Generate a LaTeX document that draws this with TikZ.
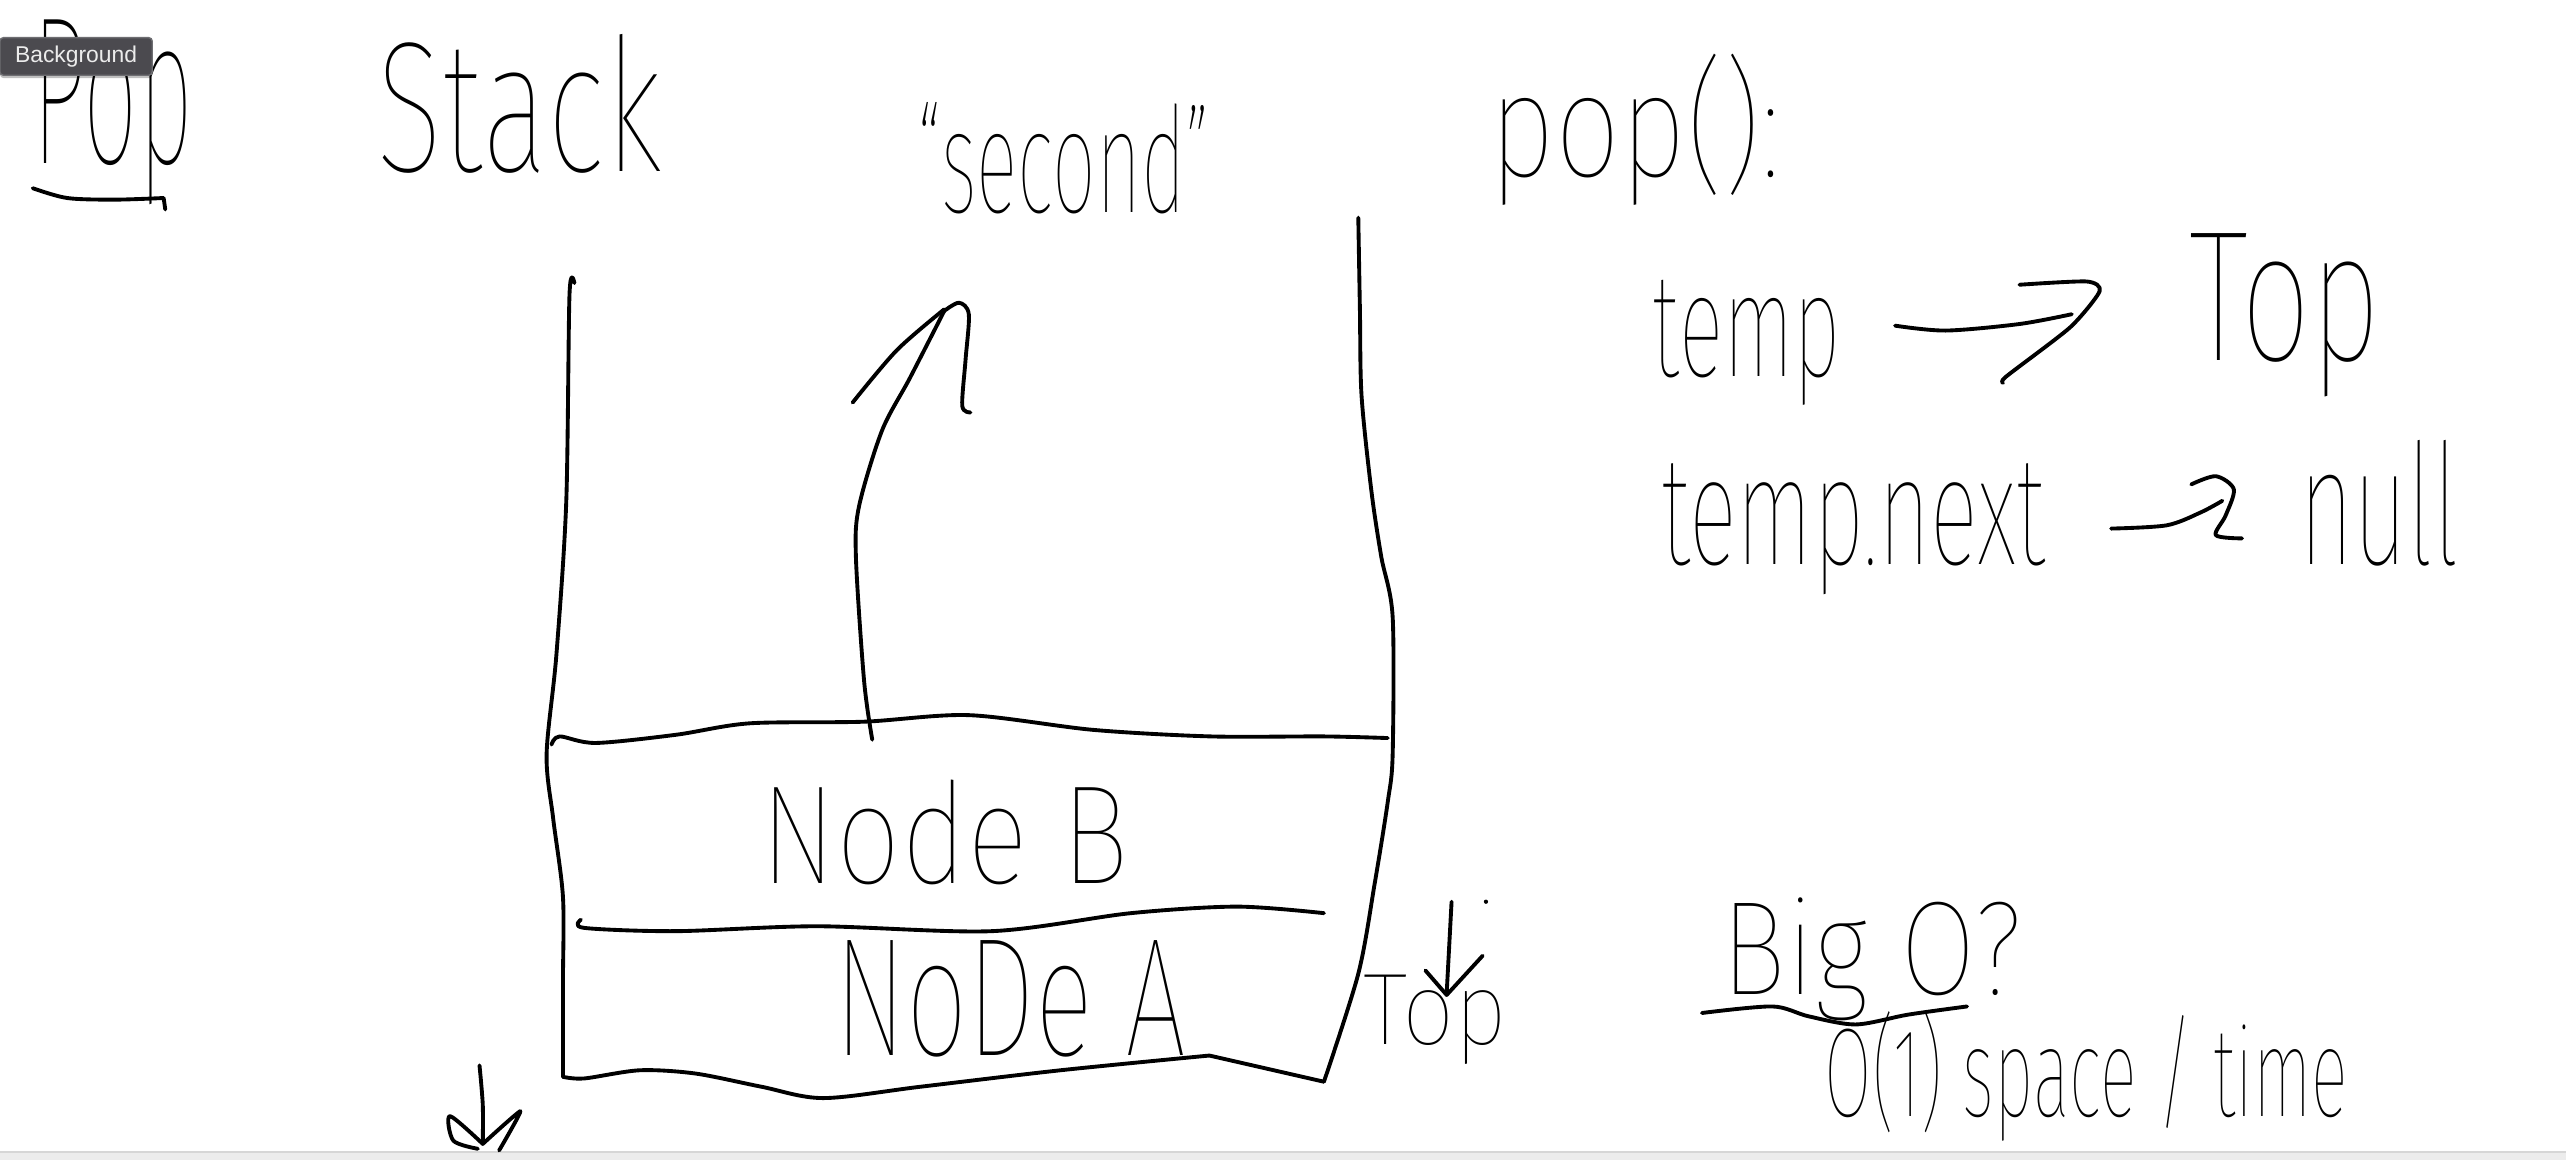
\documentclass[tikz,border=0pt]{standalone}
\usepackage{fontspec}
\usepackage{graphicx}
\usetikzlibrary{shadows}
\IfFontExistsTF{FiraSans-Thin.otf}{\newfontfamily\hand{FiraSans-Thin.otf}}{%
  \IfFontExistsTF{Fira Sans Thin}{\newfontfamily\hand{Fira Sans Thin}}{\newfontfamily\hand{Fira Sans}}}
\newfontfamily\uifont{Liberation Sans}
\newdimen\pvx \pvx=0.016365cm
\newcommand\hw[3]{\fontsize{#1pt}{#1pt}\selectfont\resizebox{#2\pvx}{\height}{#3}}
\definecolor{tipfill}{RGB}{75,74,79}
\definecolor{tipline}{RGB}{110,110,114}
\definecolor{tiptext}{RGB}{236,236,236}
\definecolor{barfill}{RGB}{236,236,236}
\definecolor{barline}{RGB}{214,214,214}
\begin{document}
\begin{tikzpicture}[x=0.016365cm, y=-0.016365cm,
  stroke/.style={line width=1.1pt, line cap=round, line join=round},
  txt/.style={inner sep=0pt, outer sep=0pt, anchor=base west, font=\hand},
  tooltip/.style={fill=tipfill, draw=tipline, line width=0.4pt, rounded corners=1pt,
    minimum width=1.522cm, minimum height=0.376cm, inner sep=0pt, text=tiptext,
    font=\uifont\fontsize{6.5pt}{7pt}\selectfont,
    drop shadow={shadow xshift=0pt, shadow yshift=-0.8pt, opacity=0.25, fill=black}}]
\useasboundingbox (0,0) rectangle (1568,709);
\fill[white] (0,0) rectangle (1568,709);
\fill[barfill] (0,704) rectangle (1568,709);
\draw[barline, line width=0.4pt] (0,704) -- (1568,704);

% titles
\node[txt] (pop) at (20,100) {\hw{60}{98}{Pop}};
\node[txt] (stack) at (230,105) {\hw{53}{175}{Stack}};
\node[txt] (second) at (560,130) {\hw{42}{180}{“second”}};
\node[txt] (popfn) at (910,108) {\hw{42}{178}{pop():}};
\draw[stroke] plot[smooth] coordinates {(20,115) (41,121) (70,122) (100,121)} -- (101,128);

% right side notes
\node[txt] (temp) at (1010,230) {\hw{42}{115}{temp}};
\node[txt] (topR) at (1338,220) {\hw{53}{117}{Top}};
\node[txt] (tempnext) at (1015,345) {\hw{44}{235}{temp.next}};
\node[txt] (null) at (1405,345) {\hw{48}{98}{null}};
\draw[stroke] plot[smooth] coordinates {(1158,199) (1189,202) (1234,198) (1266,192)};
\draw[stroke] plot[smooth,tension=0.4] coordinates {(1234,174) (1275,172) (1283,178) (1265,200) (1226,230) (1224,234)};
\draw[stroke] plot[smooth] coordinates {(1290,323) (1324,321) (1345,313) (1358,306)};
\draw[stroke] plot[smooth,tension=0.5] coordinates {(1339,296) (1354,291) (1365,299) (1360,315) (1354,327) (1370,329)};

% stack container
\draw[stroke] plot[smooth,tension=0.5] coordinates {(351,173) (348,180) (346,307) (340,400) (334,461) (338,500) (344,548) (344,600) (344,658)};
\draw[stroke] plot[smooth,tension=0.5] coordinates {(344,658) (357,659) (391,654) (425,656) (465,664) (503,671) (563,664) (648,654) (739,645)} -- (809,661);
\draw[stroke] plot[smooth,tension=0.5] coordinates {(830,133) (831,190) (832,242) (838,300) (844,340) (851,377) (851,461) (848,490) (840,540) (830,595) (809,661)};
\draw[stroke] plot[smooth,tension=0.5] coordinates {(337,455) (342,450) (364,454) (413,449) (458,442) (528,441) (592,437) (668,446) (740,450) (809,450) (848,451)};
\draw[stroke] plot[smooth,tension=0.5] coordinates {(355,562) (357,567) (413,569) (499,566) (606,569) (691,558) (756,554) (809,558)};

\node[txt] (nodeB) at (465,540) {\hw{40}{225}{Node B}};
\node[txt] (nodeA) at (510,645) {\hw{48}{215}{NoDe A}};
\node[txt] (topS) at (833,638) {\hw{29}{88}{Top}};

% arrow up from Node B
\draw[stroke] plot[smooth,tension=0.5] coordinates {(533,452) (528,416) (523,340) (525,309) (539,263) (556,231) (577,190)};
\draw[stroke] plot[smooth,tension=0.5] coordinates {(521,246) (548,214) (577,189)};
\draw[stroke] plot[smooth,tension=0.5] coordinates {(577,190) (586,185) (592,192) (590,220) (588,248) (593,252)};

% small arrow on Top
\draw[stroke] (887,551) -- (884,607);
\draw[stroke] (871,593) -- (884,608) -- (906,584);
\fill (908,551) circle (1.3);

% small arrow bottom left
\draw[stroke] plot[smooth] coordinates {(293,651) (295,675) (295,699)};
\draw[stroke] plot[smooth,tension=0.5] coordinates {(295,699) (275,682) (277,697) (292,702)};
\draw[stroke] plot[smooth,tension=0.3] coordinates {(295,699) (318,679) (305,703)};

% Big O
\node[txt] (bigO) at (1052,608) {\hw{38}{184}{Big O?}};
\node[txt] (cost) at (1115,682) {\hw{36}{320}{O(1) space / time}};
\draw[stroke] plot[smooth] coordinates {(1040,619) (1083,615) (1105,621) (1134,626) (1166,620) (1202,615)};

% tooltip
\node[tooltip] (tip) at (46.5,34.5) {Background};
\end{tikzpicture}
\end{document}
